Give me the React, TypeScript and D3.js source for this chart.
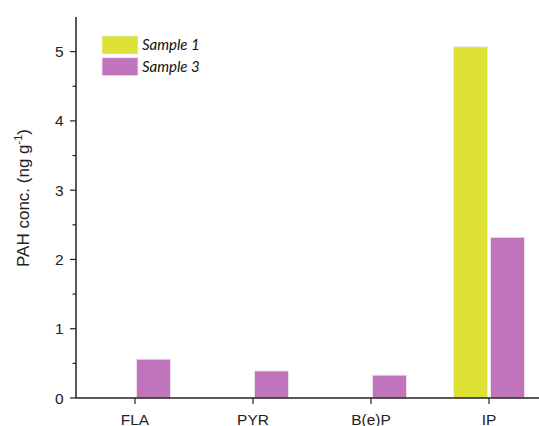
import React from "react";
import * as d3 from "d3";

const categories = ["FLA", "PYR", "B(e)P", "IP"];
const sample1 = [0, 0, 0, 5.07];
const sample3 = [0.56, 0.39, 0.33, 2.32];
const seriesNames = ["Sample 1", "Sample 3"];
const colors = ["#dde136", "#c074bc"];
const yTicks = [0, 1, 2, 3, 4, 5];
const yMinor = [0.5, 1.5, 2.5, 3.5, 4.5];

export default function App() {
  const W = 539, H = 426;
  const left = 76, top = 17, bottom = 398;
  const x = d3.scaleBand<string>().domain(categories).range([left, left + 472]);
  const y = d3.scaleLinear().domain([0, 5.5]).range([bottom, top]);
  const bw = 34, gap = 1.5;
  const series = [sample1, sample3];
  const font = "'Liberation Sans', Arial, sans-serif";
  return (
    <svg width={W} height={H} style={{ position: "absolute", left: 0, top: 0 }}>
      <rect width={W} height={H} fill="#fff" />
      {series.map((vals, si) =>
        vals.map((v, i) => {
          if (v <= 0) return null;
          const cx = x(categories[i])! + x.bandwidth() / 2;
          const xs = si === 0 ? cx - gap - bw : cx + gap;
          return (
            <rect key={si + "-" + i} x={xs} y={y(v)} width={bw} height={y(0) - y(v)}
              fill={colors[si]} stroke="#f3e8f0" strokeWidth={0.8} />
          );
        })
      )}
      <line x1={left} x2={W} y1={bottom} y2={bottom} stroke="#222" strokeWidth={1.5} />
      <line x1={left} x2={left} y1={top} y2={bottom} stroke="#222" strokeWidth={1.5} />
      {yTicks.map((t) => (
        <g key={t}>
          <line x1={left - 6} x2={left} y1={y(t)} y2={y(t)} stroke="#222" strokeWidth={1.2} />
          <text x={left - 12.5} y={y(t)} dy="0.36em" textAnchor="end" fontFamily={font} fontSize={15.5} fill="#222">{t}</text>
        </g>
      ))}
      {yMinor.map((t) => (
        <line key={t} x1={left - 3.5} x2={left} y1={y(t)} y2={y(t)} stroke="#222" strokeWidth={1.2} />
      ))}
      {categories.map((c) => {
        const cx = x(c)! + x.bandwidth() / 2;
        return (
          <g key={c}>
            <line x1={cx} x2={cx} y1={bottom} y2={bottom + 6} stroke="#222" strokeWidth={1.2} />
            <text x={cx} y={424.5} textAnchor="middle" fontFamily={font} fontSize={15.5} fill="#222">{c}</text>
          </g>
        );
      })}
      <text transform={`translate(29,198) rotate(-90)`} textAnchor="middle" fontFamily={font} fontSize={17} fill="#222">
        PAH conc. (ng g<tspan dy="-7" fontSize={11}>-1</tspan><tspan dy="7">)</tspan>
      </text>
      {seriesNames.map((n, i) => (
        <g key={n}>
          <rect x={102} y={36 + i * 21.7} width={36} height={18} fill={colors[i]} stroke="#f3e8f0" strokeWidth={0.8} />
          <text x={142} y={45 + i * 21.7} dy="0.35em" fontFamily="Lato, 'Open Sans', sans-serif" fontStyle="italic" fontSize={15} fill="#111">{n}</text>
        </g>
      ))}
    </svg>
  );
}
